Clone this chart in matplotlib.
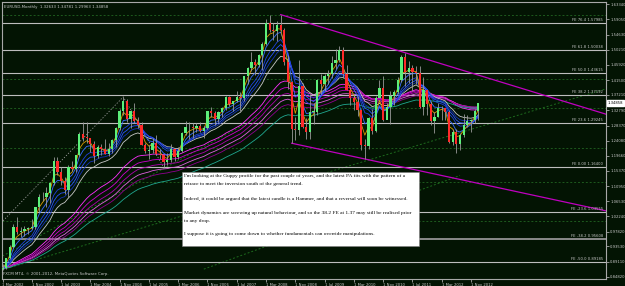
import numpy as np
import pandas as pd
import matplotlib
matplotlib.use('Agg')
import matplotlib.pyplot as plt
from matplotlib.patches import Rectangle

W, H = 625, 286
BG = '#031403'
FG = '#c8c8c8'

# EURUSD monthly, Mar 2002 .. Jan 2013 (month index 0 = Mar 2002)
first_open = 0.8697
highs = [0.8837, 0.9034, 0.9382, 0.9995, 1.0194, 0.9915, 0.9935, 0.9916, 1.0138, 1.0505,
         1.0871, 1.0935, 1.1080, 1.1220, 1.1932, 1.1933, 1.1640, 1.1370, 1.1700, 1.1830, 1.2002, 1.2646,
         1.2930, 1.2930, 1.2470, 1.2380, 1.2277, 1.2320, 1.2440, 1.2340, 1.2450, 1.2810, 1.3310, 1.3667,
         1.3600, 1.3290, 1.3480, 1.3100, 1.2950, 1.2350, 1.2270, 1.2480, 1.2580, 1.2160, 1.2020, 1.2040,
         1.2320, 1.2170, 1.2210, 1.2640, 1.2980, 1.2940, 1.2900, 1.2910, 1.2940, 1.2830, 1.3270, 1.3370,
         1.3260, 1.3250, 1.3380, 1.3680, 1.3680, 1.3550, 1.3850, 1.3800, 1.4280, 1.4530, 1.4970, 1.4750,
         1.4900, 1.5250, 1.5910, 1.6020, 1.5810, 1.5840, 1.6038, 1.5640, 1.4860, 1.4130, 1.3080, 1.4720,
         1.4060, 1.3070, 1.3740, 1.3480, 1.4180, 1.4340, 1.4340, 1.4450, 1.4840, 1.5060, 1.5145, 1.5100,
         1.4580, 1.3960, 1.3740, 1.3690, 1.3330, 1.2450, 1.3100, 1.3330, 1.3690, 1.4160, 1.4280, 1.3500,
         1.3850, 1.3860, 1.4250, 1.4880, 1.4940, 1.4700, 1.4580, 1.4550, 1.4550, 1.4250, 1.3860, 1.3550,
         1.3230, 1.3490, 1.3390, 1.3280, 1.3280, 1.2750, 1.2750, 1.2620, 1.3170, 1.3140, 1.3030, 1.3310,
         1.3486]
lows = [0.8680, 0.8710, 0.9000, 0.9310, 0.9700, 0.9618, 0.9650, 0.9700, 0.9871, 0.9862,
        1.0336, 1.0660, 1.0500, 1.0620, 1.1115, 1.1415, 1.1139, 1.0870, 1.0765, 1.1540, 1.1500, 1.1970,
        1.2390, 1.2340, 1.2080, 1.1760, 1.1900, 1.2000, 1.2010, 1.1960, 1.2050, 1.2230, 1.2720, 1.3140,
        1.2950, 1.2770, 1.2900, 1.2760, 1.2270, 1.2040, 1.1870, 1.2060, 1.1990, 1.1870, 1.1640, 1.1710,
        1.1800, 1.1830, 1.1870, 1.2080, 1.2560, 1.2460, 1.2480, 1.2650, 1.2650, 1.2480, 1.2750, 1.3100,
        1.2860, 1.2930, 1.3080, 1.3300, 1.3400, 1.3260, 1.3520, 1.3260, 1.3560, 1.4030, 1.4400, 1.4310,
        1.4530, 1.4440, 1.5160, 1.5530, 1.5300, 1.5280, 1.5560, 1.4580, 1.3890, 1.2330, 1.2420, 1.2580,
        1.2760, 1.2450, 1.2460, 1.2880, 1.3150, 1.3750, 1.3830, 1.4050, 1.4200, 1.4480, 1.4680, 1.4210,
        1.3860, 1.3440, 1.3300, 1.3120, 1.2140, 1.1876, 1.2150, 1.2590, 1.2640, 1.3690, 1.2970, 1.3060,
        1.2870, 1.3440, 1.3760, 1.4100, 1.3970, 1.4070, 1.3840, 1.4050, 1.3360, 1.3150, 1.3150, 1.2860,
        1.2620, 1.3080, 1.3000, 1.3000, 1.2350, 1.2290, 1.2042, 1.2130, 1.2500, 1.2800, 1.2660, 1.2920,
        1.2996]
closes = [0.8724, 0.9012, 0.9337, 0.9920, 0.9772, 0.9806, 0.9866, 0.9887, 0.9928, 1.0488,
          1.0771, 1.0785, 1.0903, 1.1171, 1.1822, 1.1493, 1.1246, 1.0983, 1.1652, 1.1590, 1.1986, 1.2597,
          1.2482, 1.2478, 1.2299, 1.1965, 1.2216, 1.2175, 1.2023, 1.2178, 1.2431, 1.2757, 1.3265, 1.3558,
          1.3036, 1.3250, 1.2963, 1.2865, 1.2292, 1.2097, 1.2125, 1.2336, 1.2023, 1.1998, 1.1791, 1.1849,
          1.2159, 1.1926, 1.2111, 1.2624, 1.2810, 1.2790, 1.2773, 1.2817, 1.2686, 1.2764, 1.3246, 1.3199,
          1.3032, 1.3233, 1.3355, 1.3650, 1.3451, 1.3541, 1.3677, 1.3637, 1.4264, 1.4485, 1.4676, 1.4588,
          1.4863, 1.5184, 1.5788, 1.5592, 1.5552, 1.5751, 1.5606, 1.4664, 1.4100, 1.2733, 1.2707, 1.3972,
          1.2802, 1.2668, 1.3228, 1.3238, 1.4152, 1.4034, 1.4256, 1.4324, 1.4638, 1.4717, 1.5010, 1.4322,
          1.3864, 1.3627, 1.3509, 1.3288, 1.2275, 1.2237, 1.3054, 1.2681, 1.3630, 1.3934, 1.2986, 1.3384,
          1.3693, 1.3805, 1.4162, 1.4807, 1.4397, 1.4502, 1.4395, 1.4364, 1.3387, 1.3862, 1.3447, 1.2961,
          1.3082, 1.3340, 1.3344, 1.3236, 1.2365, 1.2658, 1.2302, 1.2576, 1.2857, 1.2958, 1.2987, 1.3263,
          1.3486]
opens = [first_open] + closes[:-1]

x_tick_labels = ['1 Mar 2002', '1 Nov 2002', '1 Jul 2003', '1 Mar 2004', '1 Nov 2004', '1 Jul 2005',
                 '1 Mar 2006', '1 Nov 2006', '1 Jul 2007', '1 Mar 2008', '1 Nov 2008', '1 Jul 2009',
                 '1 Mar 2010', '1 Nov 2010', '1 Jul 2011', '1 Mar 2012', '1 Nov 2012']
price_ticks = [0.84820, 0.89110, 0.93530, 0.97820, 1.02240, 1.06530, 1.10950, 1.15370, 1.19660,
               1.24080, 1.28370, 1.32790, 1.37210, 1.41500, 1.45920, 1.50210, 1.54630, 1.59050, 1.63340]
last_price = 1.34858

fe_levels = ['76.4', '61.8', '50.0', '38.2', '23.6', '0.00', '-23.6', '-38.2', '-50.0']
fe_prices = [1.57985, 1.50038, 1.43615, 1.37192, 1.29245, 1.16400, 1.03555, 0.95608, 0.89185]
# fibo expansion anchor points (month index, price)
fe_points_m = [-17, 33, 44]
fe_points_p = [0.8228, 1.3667, 1.1640]

# second (dim) fibo set, horizontal levels
dim_prices = [1.6020, 1.4180, 1.3340, 1.2180, 1.1220, 1.0100, 0.9560, 0.8920]

# dim dotted diagonals: (month, price) start / end
diag_m = [(-1, 70), (-1, 165), (55, 125)]
diag_p = [(0.9020, 1.3090), (0.8650, 1.3900), (0.8700, 1.1400)]

# downtrend channel anchors (month index, price)
upper_m, upper_p = [76, 110], [1.6038, 1.4940]
lower_m, lower_p = [79, 99], [1.2330, 1.1876]

note_lines = [
    "I'm looking at the Guppy profile for the past couple of years, and the latest PA fits with the pattern of a",
    "retrace to meet the inversion south of the general trend.",
    "Indeed, it could be argued that the latest candle is a Hammer, and that a reversal will soon be witnessed.",
    "Market dynamics are screwing up natural behaviour, and so the 38.2 FE at 1.37 may still be realised prior",
    "to any drop.",
    "I suppose it is going to come down to whether fundamentals can override manipulations.",
]
note_y = [176, 184.5, 198.5, 212.5, 221, 234]

# guppy multiple moving averages
short_spans = [3, 5, 8, 10, 12, 15]
short_colors = ['#d89a00', '#3a6cff', '#1f3fe0', '#2a52ff', '#1530b8', '#c8c8c8']
long_spans = [30, 35, 40, 45, 50, 60]
long_colors = ['#ff30ff', '#d000d0', '#b000b0', '#e060e0', '#900090', '#20a890']

n = len(closes)
m = np.arange(n)
o = np.array(opens); c = np.array(closes); hi = np.array(highs); lo = np.array(lows)


def px2p(y):
    return 0.84820 + (276.7 - y) * 0.002883


def px2m(x):
    return (x - 2.5) / 3.66


fig = plt.figure(figsize=(W / 100, H / 100), dpi=100, facecolor=BG)
ax = fig.add_axes([2 / W, 1 - 279 / H, 604 / W, 277 / H], facecolor=BG)
ax.set_xlim(px2m(2), px2m(606))
ax.set_ylim(px2p(279), px2p(2))

# dim fibo set and diagonals
for p in dim_prices:
    ax.axhline(p, color='#1d5a1d', lw=0.7, ls=(0, (2, 2)), zorder=1)
for mm, pp in zip(diag_m, diag_p):
    ax.plot(mm, pp, color='#1d6a1d', lw=0.7, ls=(0, (2, 2)), zorder=1)

# fibo expansion lines
for lev, p in zip(fe_levels, fe_prices):
    lw = 1.4 if lev == '-38.2' else 0.8
    col = '#8a8a8a' if lev == '-38.2' else '#bdbdbd'
    ax.axhline(p, color=col, lw=lw, zorder=1)
    ax.text(px2m(603), p + 0.003, f'FE {lev} {p:.5f}', color=FG, fontsize=2.7,
            ha='right', va='bottom', zorder=6)
ax.plot(fe_points_m, fe_points_p, color='#9a9a9a', lw=0.6, ls=(0, (1.5, 2)), zorder=1)

# channel
for mm, pp in [(upper_m, upper_p), (lower_m, lower_p)]:
    slope = (pp[1] - pp[0]) / (mm[1] - mm[0])
    xe = px2m(606)
    ax.plot([mm[0], xe], [pp[0], pp[0] + slope * (xe - mm[0])], color='#c000c0', lw=0.9, zorder=2)

# GMMA
s = pd.Series(closes)
for span, col in zip(long_spans, long_colors):
    ax.plot(m, s.ewm(span=span, adjust=False).mean(), color=col, lw=0.6, zorder=3)
for span, col in zip(short_spans[::-1], short_colors[::-1]):
    ax.plot(m, s.ewm(span=span, adjust=False).mean(), color=col, lw=0.6, zorder=3)

# candles
up = c >= o
ax.vlines(m, lo, hi, color='#9a9a9a', lw=0.6, zorder=4)
body_b = np.minimum(o, c)
body_h = np.maximum(np.abs(c - o), 0.002)
ax.bar(m[up], body_h[up], bottom=body_b[up], width=0.62, color='#5cf07a', lw=0, zorder=5)
ax.bar(m[~up], body_h[~up], bottom=body_b[~up], width=0.62, color='#ff2a2a', lw=0, zorder=5)

# axes styling
for sp in ax.spines.values():
    sp.set_color('#a8a8a8')
    sp.set_linewidth(0.8)
ax.set_xticks(np.arange(0, n, 8)[:len(x_tick_labels)])
ax.set_xticklabels(x_tick_labels, ha='left')
ax.yaxis.tick_right()
ax.set_yticks(price_ticks)
ax.set_yticklabels([f'{p:.5f}' for p in price_ticks])
ax.tick_params(axis='both', colors='#a8a8a8', labelcolor=FG, labelsize=2.7, length=2, width=0.6, pad=1)

# last price box
ax.text(px2m(607.5), last_price, f'{last_price:.5f}', fontsize=2.7, color='black', va='center', ha='left',
        bbox=dict(boxstyle='square,pad=0.25', fc='white', ec='white'), clip_on=False, zorder=8)

# header / footer
fig.text(4 / W, 1 - 7 / H, 'EURUSD,Monthly  %.5f %.5f %.5f %.5f' % (1.32633, 1.34781, 1.29963, 1.34858),
         color=FG, fontsize=2.8, va='center', ha='left')
fig.text(3 / W, 1 - 274 / H, 'FXCM MT4, \u00a9 2001-2012, MetaQuotes Software Corp.',
         color=FG, fontsize=2.8, va='center', ha='left')

# note box
fig.patches.append(Rectangle((182 / W, 1 - 246 / H), (419 - 182) / W, (246 - 172) / H,
                             transform=fig.transFigure, fc='white', ec='#808080', lw=0.4, zorder=9))
for line, yy in zip(note_lines, note_y):
    fig.text(184 / W, 1 - yy / H, line, family='Liberation Serif', fontsize=3.9, color='black',
             va='center', ha='left', zorder=10)

fig.savefig('out.png', dpi=100, facecolor=BG)
